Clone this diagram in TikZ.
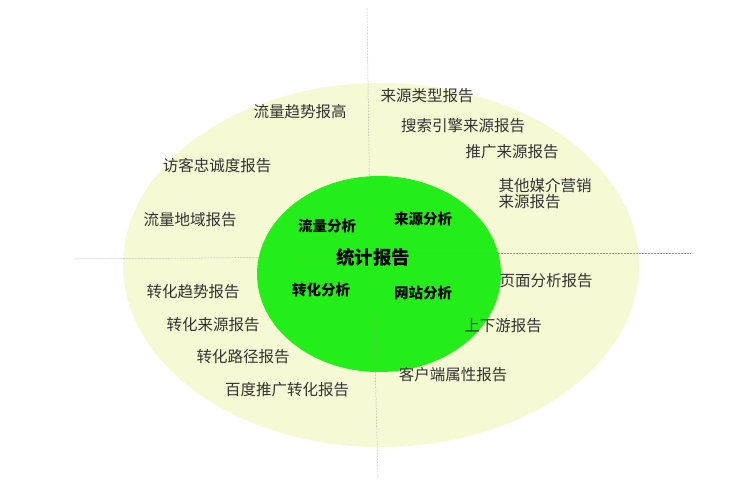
\documentclass[tikz,border=0pt]{standalone}
\usepackage{fontspec}
\usepackage{tikz}
\setmainfont{Noto Sans CJK SC}
\newfontfamily\cjk{Noto Sans CJK SC}
\definecolor{ringYellow}{RGB}{246, 250, 212}
\definecolor{coreGreen}{RGB}{36, 238, 26}
\definecolor{axisGray}{RGB}{150, 150, 150}
\definecolor{labelGray}{RGB}{50, 50, 50}

\begin{document}
\begin{tikzpicture}[x=1pt, y=-1pt,
    report/.style={font=\cjk\fontsize{15.5}{16}\selectfont, text=labelGray, inner sep=0pt},
    part/.style={font=\cjk\bfseries\fontsize{14.5}{15}\selectfont, inner sep=0pt},
    axis/.style={axisGray, densely dotted, line width=0.5pt}]
        \useasboundingbox (0,0) rectangle (744,502);

        \fill[ringYellow] (381,265) ellipse (258 and 182);
        \fill[coreGreen] (379,274) ellipse (122 and 98);

        \coordinate (top) at (367,8);
        \coordinate (topEnd) at (370,228);
        \coordinate (bottomStart) at (373,278);
        \coordinate (bottom) at (378,478);
        \coordinate (left) at (75,259);
        \coordinate (leftEnd) at (330,257);
        \coordinate (rightStart) at (403,253);
        \coordinate (right) at (690,253);

        \draw[axis] (top) -- (topEnd);
        \draw[axis] (bottomStart) -- (bottom);
        \draw[axis] (left) -- (leftEnd);
        \draw[axis] (rightStart) -- (right);

        \node[report] (trend) at (300,112) {流量趋势报高};
        \node[report] (loyal) at (217,166) {访客忠诚度报告};
        \node[report] (region) at (190,220) {流量地域报告};

        \node[report] (srcType) at (427,96) {来源类型报告};
        \node[report] (engine) at (463,126) {搜索引擎来源报告};
        \node[report] (promo) at (512,152) {推广来源报告};
        \node[report, align=left] (media) at (545,194) {其他媒介营销\\来源报告};

        \node[report] (convTrend) at (193,292) {转化趋势报告};
        \node[report] (convSrc) at (213,325) {转化来源报告};
        \node[report] (convPath) at (243,357) {转化路径报告};
        \node[report] (baidu) at (287,390) {百度推广转化报告};

        \node[report] (page) at (546,281) {页面分析报告};
        \node[report] (updown) at (503,326) {上下游报告};
        \node[report] (client) at (453,375) {客户端属性报告};

        \node[part] (flow) at (327,226) {流量分析};
        \node[part] (source) at (423,219) {来源分析};
        \node[part] (convert) at (321,290) {转化分析};
        \node[part] (site) at (423,293) {网站分析};
        \node[part, font=\cjk\bfseries\fontsize{18.5}{19}\selectfont] (stats) at (373,257) {统计报告};
      \end{tikzpicture}
\end{document}
